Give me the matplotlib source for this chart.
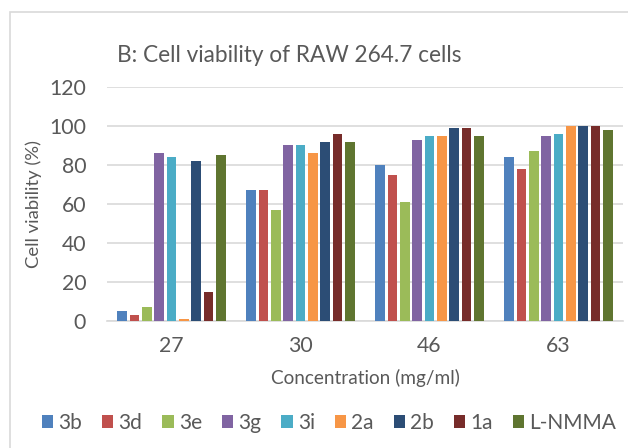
import numpy as np
import matplotlib
matplotlib.use("Agg")
import matplotlib.pyplot as plt
from matplotlib.patches import Rectangle

plt.rcParams['font.family'] = ['Lato', 'DejaVu Sans']

# data
concentrations = ["27", "30", "46", "63"]
series_names = ["3b", "3d", "3e", "3g", "3i", "2a", "2b", "1a", "L-NMMA"]
v_3b = [5, 67, 80, 84]
v_3d = [3, 67, 75, 78]
v_3e = [7, 57, 61, 87]
v_3g = [86, 90, 93, 95]
v_3i = [84, 90, 95, 96]
v_2a = [1, 86, 95, 100]
v_2b = [82, 92, 99, 100]
v_1a = [15, 96, 99, 100]
v_lnmma = [85, 92, 95, 98]
y_ticks = [0, 20, 40, 60, 80, 100, 120]

colors = ["#4F81BD", "#C0504D", "#9BBB59", "#8064A2", "#4BACC6",
          "#F79646", "#2C4D75", "#772C2A", "#5F7530"]
TXT = "#595959"
GRID = "#D9D9D9"

all_vals = [v_3b, v_3d, v_3e, v_3g, v_3i, v_2a, v_2b, v_1a, v_lnmma]

fig = plt.figure(figsize=(6.28, 4.48), dpi=100)
fig.patches.append(Rectangle((10 / 628, -0.1), 1.2, 1 - 12 / 448 + 0.1,
                             transform=fig.transFigure, fill=False,
                             edgecolor=GRID, linewidth=1.2))
ax = fig.add_axes([107 / 628, (448 - 321) / 448, 516 / 628, 234 / 448])

x = np.arange(len(concentrations))
slot = 0.096
for i, (name, vals) in enumerate(zip(series_names, all_vals)):
    off = (i - (len(series_names) - 1) / 2) * slot
    ax.bar(x + off, vals, width=0.074, color=colors[i], label=name, zorder=3)

ax.set_xlim(-0.5, len(concentrations) - 0.5)
ax.set_ylim(0, 120)
ax.set_yticks(y_ticks)
ax.set_xticks(x)
ax.set_xticklabels(concentrations)
ax.tick_params(length=0, labelsize=15.3, colors=TXT)
ax.tick_params(axis="y", pad=15)
ax.tick_params(axis="x", pad=11)
ax.grid(axis="y", color=GRID, linewidth=1.2, zorder=0)
for s in ["top", "right", "left"]:
    ax.spines[s].set_visible(False)
ax.spines["bottom"].set_color(GRID)
ax.spines["bottom"].set_linewidth(1.2)

ax.set_ylabel("Cell viability (%)", fontsize=13.3, color=TXT, labelpad=5)
ax.set_xlabel("Concentration (mg/ml)", fontsize=13.7, color=TXT, labelpad=9)
fig.text(117 / 628, 1 - 55 / 448, "B: Cell viability of RAW 264.7 cells",
         fontsize=16.3, color=TXT, va="center", ha="left")

ax.legend(loc="center", bbox_to_anchor=(329 / 628, 1 - 423 / 448),
          bbox_transform=fig.transFigure, ncol=9, frameon=False,
          fontsize=15, labelcolor=TXT, handlelength=0.55, handleheight=0.55,
          handletextpad=0.25, columnspacing=0.95)

fig.savefig("out.png", dpi=100)
